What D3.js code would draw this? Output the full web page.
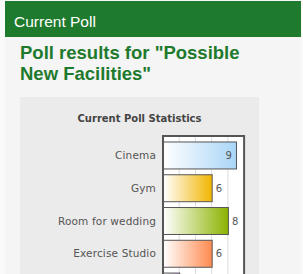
<!DOCTYPE html>
<html>
<head>
<meta charset="utf-8">
<script src="https://cdn.jsdelivr.net/npm/d3@7"></script>
<style>
  body { margin: 0; background: #fafafa; overflow: hidden; }
  svg { display: block; }
</style>
</head>
<body>
<div id="chart"></div>
<script>
var categories = ["Cinema", "Gym", "Room for wedding", "Exercise Studio", "Swimming Pool"]
var votes = [9, 6, 8, 6, 2]
var barColors = ["#a9d5f7", "#f1b500", "#8bb300", "#ff8a4f", "#b9a3d6"]
var gridTicks = [2, 4, 6, 8]

var width = 303, height = 274
var green = "#1e7a2d"

var svg = d3.select("#chart").append("svg")
    .attr("width", width)
    .attr("height", height)

/* page + header */
svg.append("rect").attr("x", 5).attr("y", 0).attr("width", 296).attr("height", height).attr("fill", "#f5f5f5")
svg.append("rect").attr("x", 5).attr("y", 1).attr("width", 296).attr("height", 36).attr("fill", green)
svg.append("text")
    .attr("x", 14).attr("y", 27)
    .attr("font-family", "Liberation Sans, Arial, sans-serif")
    .attr("font-size", "15.5px")
    .attr("fill", "#fff")
    .text("Current Poll")

var title = svg.append("text")
    .attr("font-family", "Liberation Sans, Arial, sans-serif")
    .attr("font-size", "18.5px")
    .attr("font-weight", "bold")
    .attr("fill", green)
title.append("tspan").attr("x", 20).attr("y", 59).text('Poll results for "Possible')
title.append("tspan").attr("x", 20).attr("y", 79.5).text('New Facilities"')

/* chart panel */
svg.append("rect").attr("x", 20).attr("y", 97).attr("width", 239).attr("height", 200).attr("fill", "#ebebeb")
svg.append("text")
    .attr("x", 139.5).attr("y", 122)
    .attr("text-anchor", "middle")
    .attr("font-family", "DejaVu Sans, Verdana, sans-serif")
    .attr("font-size", "10px")
    .attr("font-weight", "bold")
    .attr("fill", "#444")
    .text("Current Poll Statistics")

/* scales */
var xScale = d3.scaleLinear().domain([0, 10]).range([163, 244.1])
var yScale = d3.scaleBand().domain(categories).range([137, 304]).paddingInner(0.177).paddingOuter(0.137)

/* plot area */
svg.append("rect")
    .attr("x", xScale(0)).attr("y", 136)
    .attr("width", xScale(10) - xScale(0)).attr("height", 200)
    .attr("fill", "#fff")

svg.append("g").selectAll("line")
    .data(gridTicks).enter()
    .append("line")
    .attr("x1", d => xScale(d)).attr("x2", d => xScale(d))
    .attr("y1", 137).attr("y2", height)
    .attr("stroke", "#dcdcdc")
    .attr("stroke-width", 1)

/* gradients */
var defs = svg.append("defs")
categories.forEach(function(c, i) {
    var g = defs.append("linearGradient").attr("id", "grad" + i)
        .attr("x1", "0%").attr("x2", "100%").attr("y1", "0%").attr("y2", "0%")
    g.append("stop").attr("offset", "0%").attr("stop-color", "#fff")
    g.append("stop").attr("offset", "100%").attr("stop-color", barColors[i])
})

/* bars */
svg.append("g").selectAll("rect")
    .data(categories).enter()
    .append("rect")
    .attr("x", xScale(0) + 0.5)
    .attr("y", d => yScale(d) + 0.5)
    .attr("width", (d, i) => xScale(votes[i]) - xScale(0))
    .attr("height", yScale.bandwidth())
    .attr("fill", (d, i) => "url(#grad" + i + ")")
    .attr("stroke", "#555")
    .attr("stroke-width", 1)

/* plot border */
svg.append("rect")
    .attr("x", xScale(0)).attr("y", 136)
    .attr("width", xScale(10) - xScale(0)).attr("height", 200)
    .attr("fill", "none")
    .attr("stroke", "#555")
    .attr("stroke-width", 2)

// only label rows whose centre lies inside the visible window
var labelY = d => yScale(d) + yScale.bandwidth() / 2 + 4
var shown = categories.map((c, i) => ({ name: c, votes: votes[i] }))
    .filter(d => labelY(d.name) < height)

/* category labels */
svg.append("g").selectAll("text")
    .data(shown).enter()
    .append("text")
    .attr("x", 156)
    .attr("y", d => labelY(d.name))
    .attr("text-anchor", "end")
    .attr("font-family", "DejaVu Sans, Verdana, sans-serif")
    .attr("font-size", "10.5px")
    .attr("letter-spacing", "0.15px")
    .attr("fill", "#555")
    .text(d => d.name)

/* value labels */
svg.append("g").selectAll("text")
    .data(shown).enter()
    .append("text")
    .attr("x", function(d) {
        var end = xScale(d.votes)
        return end + 14 > xScale(10) ? end - 4 : end + 4
    })
    .attr("text-anchor", d => xScale(d.votes) + 14 > xScale(10) ? "end" : "start")
    .attr("y", d => labelY(d.name))
    .attr("font-family", "DejaVu Sans, Verdana, sans-serif")
    .attr("font-size", "10px")
    .attr("fill", "#555")
    .text(d => d.votes)
</script>
</body>
</html>
